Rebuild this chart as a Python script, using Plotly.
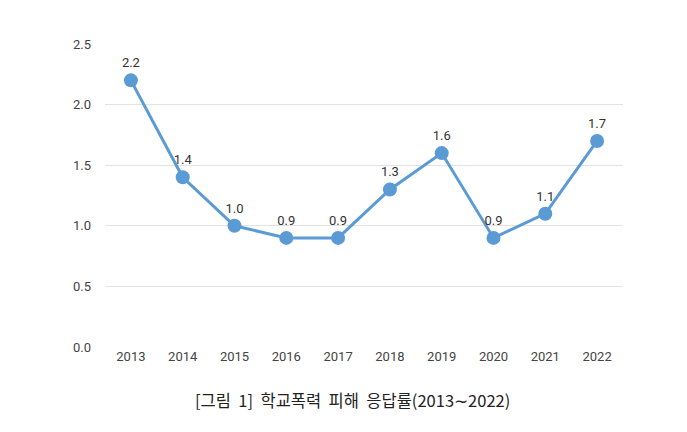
import plotly.graph_objects as go

years = ["2013", "2014", "2015", "2016", "2017", "2018", "2019", "2020", "2021", "2022"]
rates = [2.2, 1.4, 1.0, 0.9, 0.9, 1.3, 1.6, 0.9, 1.1, 1.7]
y_ticks = [0.0, 0.5, 1.0, 1.5, 2.0, 2.5]

fig = go.Figure()
fig.add_trace(go.Scatter(
    x=years, y=rates, mode="lines+markers+text",
    line=dict(color="#5B9BD5", width=3),
    marker=dict(color="#5B9BD5", size=14),
    text=[f"{v:.1f}" for v in rates],
    textposition="top center",
    textfont=dict(family="Roboto, sans-serif", size=13, color="#333333"),
    cliponaxis=False,
    hoverinfo="skip",
))

fig.update_layout(
    width=679, height=424,
    margin=dict(l=97, r=64, t=36, b=85),
    paper_bgcolor="white", plot_bgcolor="white",
    showlegend=False,
    xaxis=dict(type="category", range=[-0.5, 9.5], showgrid=False, showline=False, zeroline=False,
               ticks="", tickfont=dict(family="Roboto, sans-serif", size=13, color="#444444")),
    yaxis=dict(range=[0, 2.5], tickvals=y_ticks, ticktext=[f"{v:.1f}" for v in y_ticks],
               showgrid=True, gridcolor="#E3E3E3", gridwidth=1, zeroline=False,
               showline=False, ticks="", ticklabelstandoff=13,
               tickfont=dict(family="Roboto, sans-serif", size=13, color="#444444")),
    annotations=[dict(
        text="[그림  1]  학교폭력  피해  응답률(2013∼2022)",
        xref="paper", yref="paper", x=0.477, y=0, yshift=-53, xanchor="center", yanchor="middle",
        showarrow=False,
        font=dict(family="Noto Sans CJK KR, sans-serif", size=16.5, color="#222222"),
    )],
)
fig.write_html("out.html")
